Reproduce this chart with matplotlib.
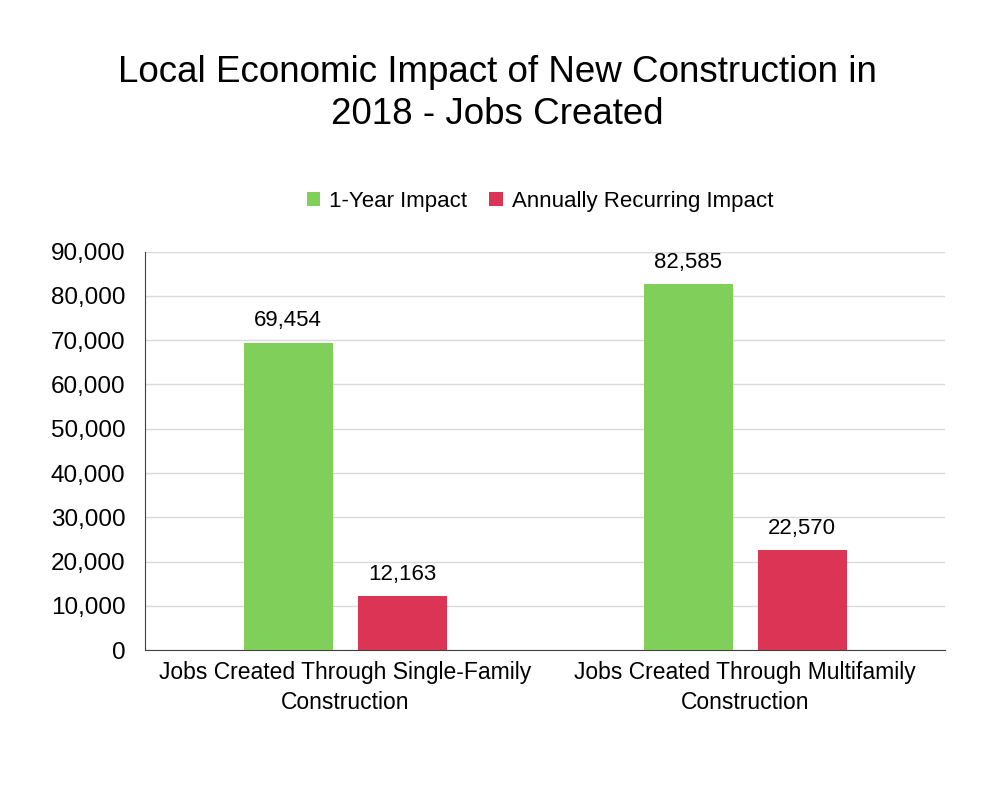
import numpy as np
import matplotlib.pyplot as plt
import matplotlib as mpl

mpl.rcParams['font.family'] = 'Liberation Sans'

categories = ['Jobs Created Through Single-Family\nConstruction',
              'Jobs Created Through Multifamily\nConstruction']
one_year = [69454, 82585]
recurring = [12163, 22570]
series_names = ['1-Year Impact', 'Annually Recurring Impact']

fig = plt.figure(figsize=(10, 7.91), dpi=100)
ax = fig.add_axes([0.145, 0.178, 0.80, 0.504])

x = np.arange(len(categories))
w = 0.2225
off = 0.1425
b1 = ax.bar(x - off, one_year, w, color='#7FCF5A', label=series_names[0], zorder=3)
b2 = ax.bar(x + off, recurring, w, color='#DC3454', label=series_names[1], zorder=3)

for bars in (b1, b2):
    for b in bars:
        ax.text(b.get_x() + b.get_width() / 2, b.get_height() + 2500,
                f'{int(b.get_height()):,}', ha='center', va='bottom', fontsize=16)

ax.set_xlim(-0.5, 1.5)
ax.set_ylim(0, 90000)
ax.set_yticks(np.arange(0, 90001, 10000))
ax.yaxis.set_major_formatter(mpl.ticker.FuncFormatter(lambda v, p: f'{int(v):,}'))
ax.set_xticks(x)
ax.set_xticklabels(categories, fontsize=16.5, linespacing=1.35)
ax.tick_params(axis='y', labelsize=17.5, length=0, pad=14)
ax.tick_params(axis='x', length=0, pad=8)
ax.grid(axis='y', color='#D9D9D9', linewidth=1, zorder=0)
for s in ('top', 'right'):
    ax.spines[s].set_visible(False)
ax.spines['left'].set_color('#404040')
ax.spines['bottom'].set_color('#404040')

fig.text(0.497, 0.882, 'Local Economic Impact of New Construction in\n2018 - Jobs Created',
         ha='center', va='center', fontsize=26.5, linespacing=1.25)
fig.legend(loc='center', bbox_to_anchor=(0.54, 0.745), ncol=2, frameon=False,
           fontsize=16, handlelength=0.6, handleheight=0.6, columnspacing=1.0,
           handletextpad=0.4)

plt.savefig('out.png', dpi=100)
